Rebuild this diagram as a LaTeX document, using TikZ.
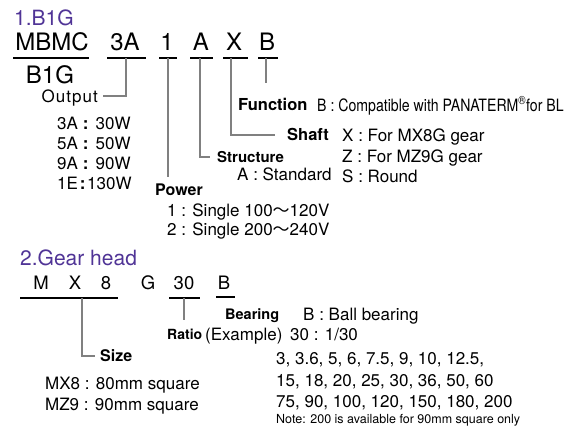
\documentclass[tikz,border=0pt]{standalone}
\usepackage{fontspec}
\usepackage{graphicx}
\setmainfont{TeX Gyre Heros}
\newfontfamily\cjk{Noto Sans CJK JP}
\usetikzlibrary{calc}
\definecolor{headpurple}{RGB}{80,52,150}
\definecolor{leadgray}{RGB}{128,128,128}
\tikzset{
  codetext/.style={inner sep=0pt,text height=17pt,text depth=0pt,font=\fontsize{24}{26}\selectfont},
  gcodetext/.style={inner sep=0pt,text height=13pt,text depth=0pt,font=\fontsize{18.5}{20}\selectfont},
  headtext/.style={anchor=west,inner sep=0pt,text height=15pt,text depth=0pt,color=headpurple,font=\fontsize{21}{23}\selectfont},
  fieldtext/.style={anchor=west,inner sep=0pt,text height=11pt,text depth=0pt,font=\bfseries\fontsize{15}{17}\selectfont},
  bigfield/.style={fieldtext,font=\bfseries\fontsize{16.5}{18}\selectfont},
  valtext/.style={anchor=west,inner sep=0pt,text height=12pt,text depth=0pt,font=\fontsize{17}{19}\selectfont},
  notetext/.style={anchor=west,inner sep=0pt,text height=9pt,text depth=0pt,font=\fontsize{12.5}{14}\selectfont}
}
\def\drawrule{\draw[line width=2.4pt]}
\def\drawlead{\draw[color=leadgray, line width=1.5pt]}
\def\codenode{\node[codetext]}
\def\gcodenode{\node[gcodetext]}
\def\fieldnode{\node[fieldtext]}
\def\valnode{\node[valtext]}
\def\wave{{\cjk ～}}
\def\outrow#1#2#3#4{#1\hspace{#3}\textbf{:}\hspace{#4}#2}

\begin{document}
\begin{tikzpicture}[x=1pt,y=-1pt]
\useasboundingbox (0,0) rectangle (577,426);

% -------- 1. motor model code ---------
\node[headtext] (headone) at (14,18) {1.B1G};
\codenode (mbmc) at (52,42) {MBMC};
\codenode (b1g) at (50,75) {B1G};
\codenode (c3A) at (125,42) {3A};
\codenode (c1) at (167,42) {1};
\codenode (cA) at (201,42) {A};
\codenode (cX) at (234,42) {X};
\codenode (cB) at (267,42) {B};

% underlines, all at the same height
\coordinate (mbmc_l) at (13,58);  \coordinate (mbmc_r) at (89,58);
\coordinate (c3A_l) at (107,58);  \coordinate (c3A_r) at (146,58);
\coordinate (c1_l) at (159,58);   \coordinate (c1_r) at (177,58);
\coordinate (cA_l) at (190,58);   \coordinate (cA_r) at (213,58);
\coordinate (cX_l) at (223,58);   \coordinate (cX_r) at (248,58);
\coordinate (cB_l) at (258,58);   \coordinate (cB_r) at (278,58);
\drawrule (mbmc_l) -- (mbmc_r);
\drawrule (c3A_l) -- (c3A_r);
\drawrule (c1_l) -- (c1_r);
\drawrule (cA_l) -- (cA_r);
\drawrule (cX_l) -- (cX_r);
\drawrule (cB_l) -- (cB_r);

% lead points, where each leader leaves its underline
\coordinate (lead3A) at (126,58);
\coordinate (lead1) at (168,58);
\coordinate (leadA) at (200,58);
\coordinate (leadX) at (231,58);
\coordinate (leadB) at (266,58);

% output
\node[valtext,anchor=east,font=\fontsize{17}{19}\selectfont\addfontfeature{LetterSpace=6}] (output) at (98,96) {Output};
\drawlead (lead3A) |- ([xshift=5pt]output.east);
\valnode (out3A) at (57,123) {\outrow{3A}{30W}{5pt}{7pt}};
\valnode (out5A) at (57,143) {\outrow{5A}{50W}{5pt}{7pt}};
\valnode (out9A) at (57,163) {\outrow{9A}{90W}{5pt}{7pt}};
\valnode (out1E) at (57,183) {\outrow{1E}{130W}{2pt}{1.5pt}};

% function
\coordinate (leadB_end) at (266,83);
\drawlead (leadB) -- (leadB_end);
\node[bigfield] (function) at (238,105) {Function};
\valnode (funcB) at (317,105) {\scalebox{0.83}[1]{B : Compatible with PANATERM\textsuperscript{\textregistered}for BL}};

% shaft
\node[bigfield] (shaft) at (287,135) {Shaft};
\drawlead (leadX) |- ([xshift=-12pt]shaft.west);
\valnode (shaftX) at (342,135) {X : For MX8G gear};
\valnode (shaftZ) at (342,156) {Z : For MZ9G gear};
\valnode (shaftS) at (342,176) {S : Round};

% structure
\fieldnode (structure) at (217,157) {Structure};
\drawlead (leadA) |- ([xshift=-7pt]structure.west);
\valnode (structA) at (237,174) {A : Standard};

% power
\coordinate (lead1_end) at (168,177);
\drawlead (lead1) -- (lead1_end);
\node[bigfield,font=\bfseries\fontsize{16}{18}\selectfont] (power) at (155,190) {Power};
\valnode (power1) at (167,210) {1 : Single 100\wave120V};
\valnode (power2) at (167,229) {2 : Single 200\wave240V};

% -------- 2. gear head code ---------
\node[headtext] (headtwo) at (20,258) {2.Gear head};
\gcodenode (gM) at (41,283) {M};
\gcodenode (gX) at (75,283) {X};
\gcodenode (g8) at (106,283) {8};
\gcodenode (gG) at (148,283) {G};
\gcodenode (g30) at (184,283) {30};
\gcodenode (gB) at (224,283) {B};

\coordinate (size_l) at (20,298);   \coordinate (size_r) at (118,298);
\coordinate (g30_l) at (169,298);   \coordinate (g30_r) at (200,298);
\coordinate (gB_l) at (216,297);    \coordinate (gB_r) at (235,297);
\drawrule (size_l) -- (size_r);
\drawrule (g30_l) -- (g30_r);
\drawrule (gB_l) -- (gB_r);

\coordinate (leadSize) at (82,298);
\coordinate (lead30) at (184,298);
\coordinate (lead30_end) at (184,320);

% size
\node[bigfield,font=\bfseries\fontsize{16}{18}\selectfont] (size) at (100,356) {Size};
\drawlead (leadSize) |- ([xshift=-5pt]size.west);
\valnode (sizeMX) at (45,383) {MX8 : 80mm square};
\valnode (sizeMZ) at (45,404) {MZ9 : 90mm square};

% bearing
\node[fieldtext,font=\bfseries\fontsize{14.5}{16}\selectfont] (bearing) at (225,314) {Bearing};
\valnode (bearingB) at (303,314) {B : Ball bearing};

% ratio
\drawlead (lead30) -- (lead30_end);
\node[fieldtext,font=\bfseries\fontsize{14}{16}\selectfont] (ratio) at (167,334) {Ratio};
\valnode (example) at (205,334) {(Example)};
\valnode (ratio30) at (290,334) {30 : 1/30};
\valnode (ratioA) at (276,358) {3, 3.6, 5, 6, 7.5, 9, 10, 12.5,};
\valnode (ratioB) at (276,380) {15, 18, 20, 25, 30, 36, 50, 60};
\valnode (ratioC) at (276,401) {75, 90, 100, 120, 150, 180, 200};
\node[notetext] (note) at (276,419) {Note: 200 is available for 90mm square only};
\end{tikzpicture}
\end{document}
